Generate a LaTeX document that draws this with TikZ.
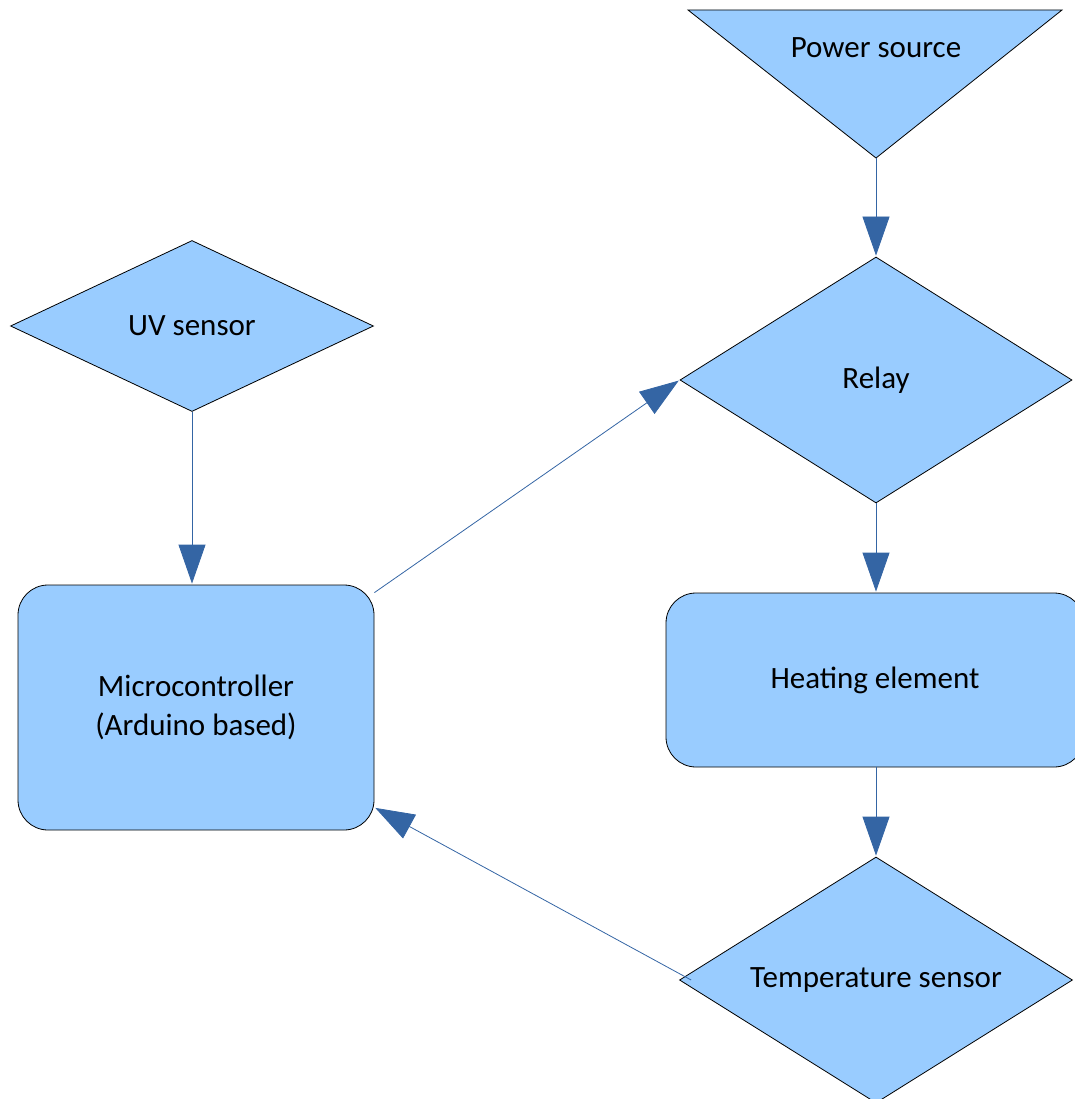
\documentclass[tikz,border=0pt]{standalone}
\usepackage{fontspec}
\setmainfont{Carlito}
\usetikzlibrary{shapes.geometric}
\usetikzlibrary{arrows.meta}

\definecolor{boxfill}{HTML}{99CCFF}
\definecolor{linkblue}{HTML}{3465A4}

\begin{document}
\begin{tikzpicture}[x=1pt, y=-1pt,
  every node/.style={font=\fontsize{31}{39}\selectfont, align=center},
  block/.style={draw=black, fill=boxfill, line width=0.8pt},
  roundbox/.style={block, rectangle, rounded corners=30pt, inner sep=0pt},
  choice/.style={block, diamond, inner sep=0pt, aspect=1.6},
  link/.style={draw=linkblue, line width=0.8pt, -{Triangle[length=39pt, width=27pt]}, shorten >=1pt}]
  \useasboundingbox (0,0) rectangle (1074,1099);

  % source on top
  \draw[block] (688,10) -- (1062,10) -- (876,158) -- cycle;
  \coordinate (tip) at (876,158);
  \node (power) at (876,48) {Power source};

  \node[choice, minimum width=392pt, minimum height=246pt] (relay) at (876,380) {Relay};
  \node[roundbox, minimum width=418pt, minimum height=174pt] (heat) at (875,680) {Heating element};
  \node[choice, minimum width=393pt, minimum height=246pt] (temp) at (876,980) {Temperature sensor};

  \node[choice, minimum width=363pt, minimum height=171pt] (uv) at (192,326) {UV sensor};
  \node[roundbox, minimum width=356pt, minimum height=245pt] (mcu) at (196,707.5) {Microcontroller\\(Arduino based)};

  \draw[link] (uv.south) -- (mcu.north -| uv.south);
  \draw[link] (tip) -- (relay.north);
  \draw[link] (relay.south) -- (heat.north -| relay.south);
  \draw[link] (heat.south -| temp.north) -- (temp.north);
  \draw[link] ([yshift=-8pt]mcu.north east) -- (relay.west);
  \draw[link] ([xshift=12pt]temp.west) -- ([yshift=23pt]mcu.south east);
\end{tikzpicture}
\end{document}
